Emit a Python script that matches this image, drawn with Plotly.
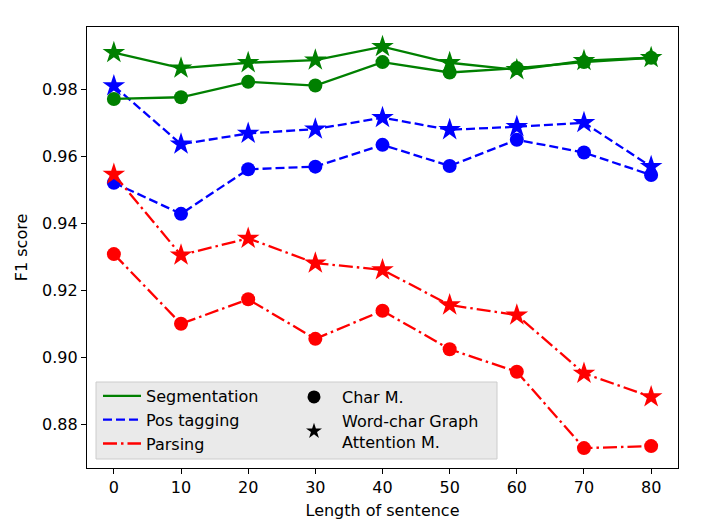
import plotly.graph_objects as go

lengths = [0, 10, 20, 30, 40, 50, 60, 70, 80]

seg_char = [0.9771, 0.9776, 0.9822, 0.9811, 0.9881, 0.9850, 0.9863, 0.9881, 0.9894]
seg_word = [0.9909, 0.9863, 0.9879, 0.9887, 0.9927, 0.9879, 0.9858, 0.9885, 0.9894]
pos_char = [0.9521, 0.9428, 0.9561, 0.9569, 0.9634, 0.9571, 0.9649, 0.9611, 0.9544]
pos_word = [0.9810, 0.9636, 0.9668, 0.9681, 0.9715, 0.9679, 0.9688, 0.9700, 0.9569]
par_char = [0.9308, 0.9100, 0.9173, 0.9055, 0.9139, 0.9024, 0.8957, 0.8729, 0.8735]
par_word = [0.9546, 0.9305, 0.9355, 0.9281, 0.9261, 0.9156, 0.9126, 0.8952, 0.8882]

x_ticks = [0, 10, 20, 30, 40, 50, 60, 70, 80]
y_ticks = [0.88, 0.90, 0.92, 0.94, 0.96, 0.98]
y_tick_labels = ["0.88", "0.90", "0.92", "0.94", "0.96", "0.98"]

GREEN = "#008000"
BLUE = "#0000ff"
RED = "#ff0000"
LW = 2.3
DASH = "9px,4px"
DASHDOT = "14px,4px,2.5px,4px"
FONT = "DejaVu Sans"
FS = 16

fig = go.Figure()

def add_series(y, color, dash, symbol, size):
    fig.add_trace(go.Scatter(
        x=lengths, y=y, mode="lines+markers",
        line=dict(color=color, width=LW, dash=dash),
        marker=dict(symbol=symbol, size=size, color=color, line=dict(width=0)),
        showlegend=False, hoverinfo="skip"))

add_series(seg_word, GREEN, "solid", "star", 17)
add_series(pos_word, BLUE, DASH, "star", 17)
add_series(seg_char, GREEN, "solid", "circle", 14)
add_series(pos_char, BLUE, DASH, "circle", 14)
add_series(par_word, RED, DASHDOT, "star", 17)
add_series(par_char, RED, DASHDOT, "circle", 14)

# legend entries (column 1: tasks)
for name, color, dash in [("Segmentation", GREEN, "solid"),
                          ("Pos tagging", BLUE, DASH),
                          ("Parsing", RED, DASHDOT)]:
    fig.add_trace(go.Scatter(x=[None], y=[None], mode="lines", name=name,
                             line=dict(color=color, width=LW, dash=dash),
                             legend="legend"))
# legend entries (column 2: models)
for name, symbol, size in [("Char M.", "circle", 13),
                           ("Word-char Graph<br>Attention M.", "star", 12)]:
    fig.add_trace(go.Scatter(x=[None], y=[None], mode="markers", name=name,
                             marker=dict(symbol=symbol, size=size, color="black"),
                             legend="legend2"))

# page offset of the plot div (body margin)
OFF = 8
W, H = 705, 530
# plot area in window px: x 87..678, y 27..468
L, R, T, B = 87 - OFF, 678 - OFF, 27 - OFF, 468 - OFF
pw, ph = R - L, B - T

def px_x(p):
    return (p - OFF - L) / pw

def px_y(p):
    return (B - (p - OFF)) / ph

fig.add_shape(type="rect", xref="paper", yref="paper",
              x0=px_x(96), x1=px_x(497), y0=px_y(459), y1=px_y(382),
              fillcolor="rgba(232,232,232,0.9)", line=dict(color="#cccccc", width=1),
              layer="above")

fig.update_layout(
    width=W, height=H,
    margin=dict(l=L, r=W - R, t=T, b=H - B),
    paper_bgcolor="white", plot_bgcolor="white",
    font=dict(family=FONT, size=FS, color="black"),
    legend=dict(x=px_x(98), y=px_y(379), xanchor="left", yanchor="top",
                bgcolor="rgba(0,0,0,0)", borderwidth=0,
                font=dict(family=FONT, size=FS, color="black"),
                tracegroupgap=0, itemwidth=38),
    legend2=dict(x=px_x(286), y=px_y(380), xanchor="left", yanchor="top",
                 bgcolor="rgba(0,0,0,0)", borderwidth=0,
                 font=dict(family=FONT, size=FS, color="black"),
                 itemwidth=46),
    xaxis=dict(range=[-4, 84], tickmode="array", tickvals=x_ticks,
               showgrid=False, zeroline=False, showline=True, mirror=True,
               linecolor="black", linewidth=1.3, ticks="outside", ticklen=5,
               tickcolor="black", tickwidth=1.2,
               tickfont=dict(family=FONT, size=FS),
               title=dict(text="Length of sentence", font=dict(family=FONT, size=FS),
                          standoff=8)),
    yaxis=dict(range=[0.86696, 0.99857], tickmode="array", tickvals=y_ticks,
               ticktext=y_tick_labels,
               showgrid=False, zeroline=False, showline=True, mirror=True,
               linecolor="black", linewidth=1.3, ticks="outside", ticklen=5,
               tickcolor="black", tickwidth=1.2,
               tickfont=dict(family=FONT, size=FS),
               title=dict(text="F1 score", font=dict(family=FONT, size=FS),
                          standoff=10)),
)

fig.write_html("out.html")
